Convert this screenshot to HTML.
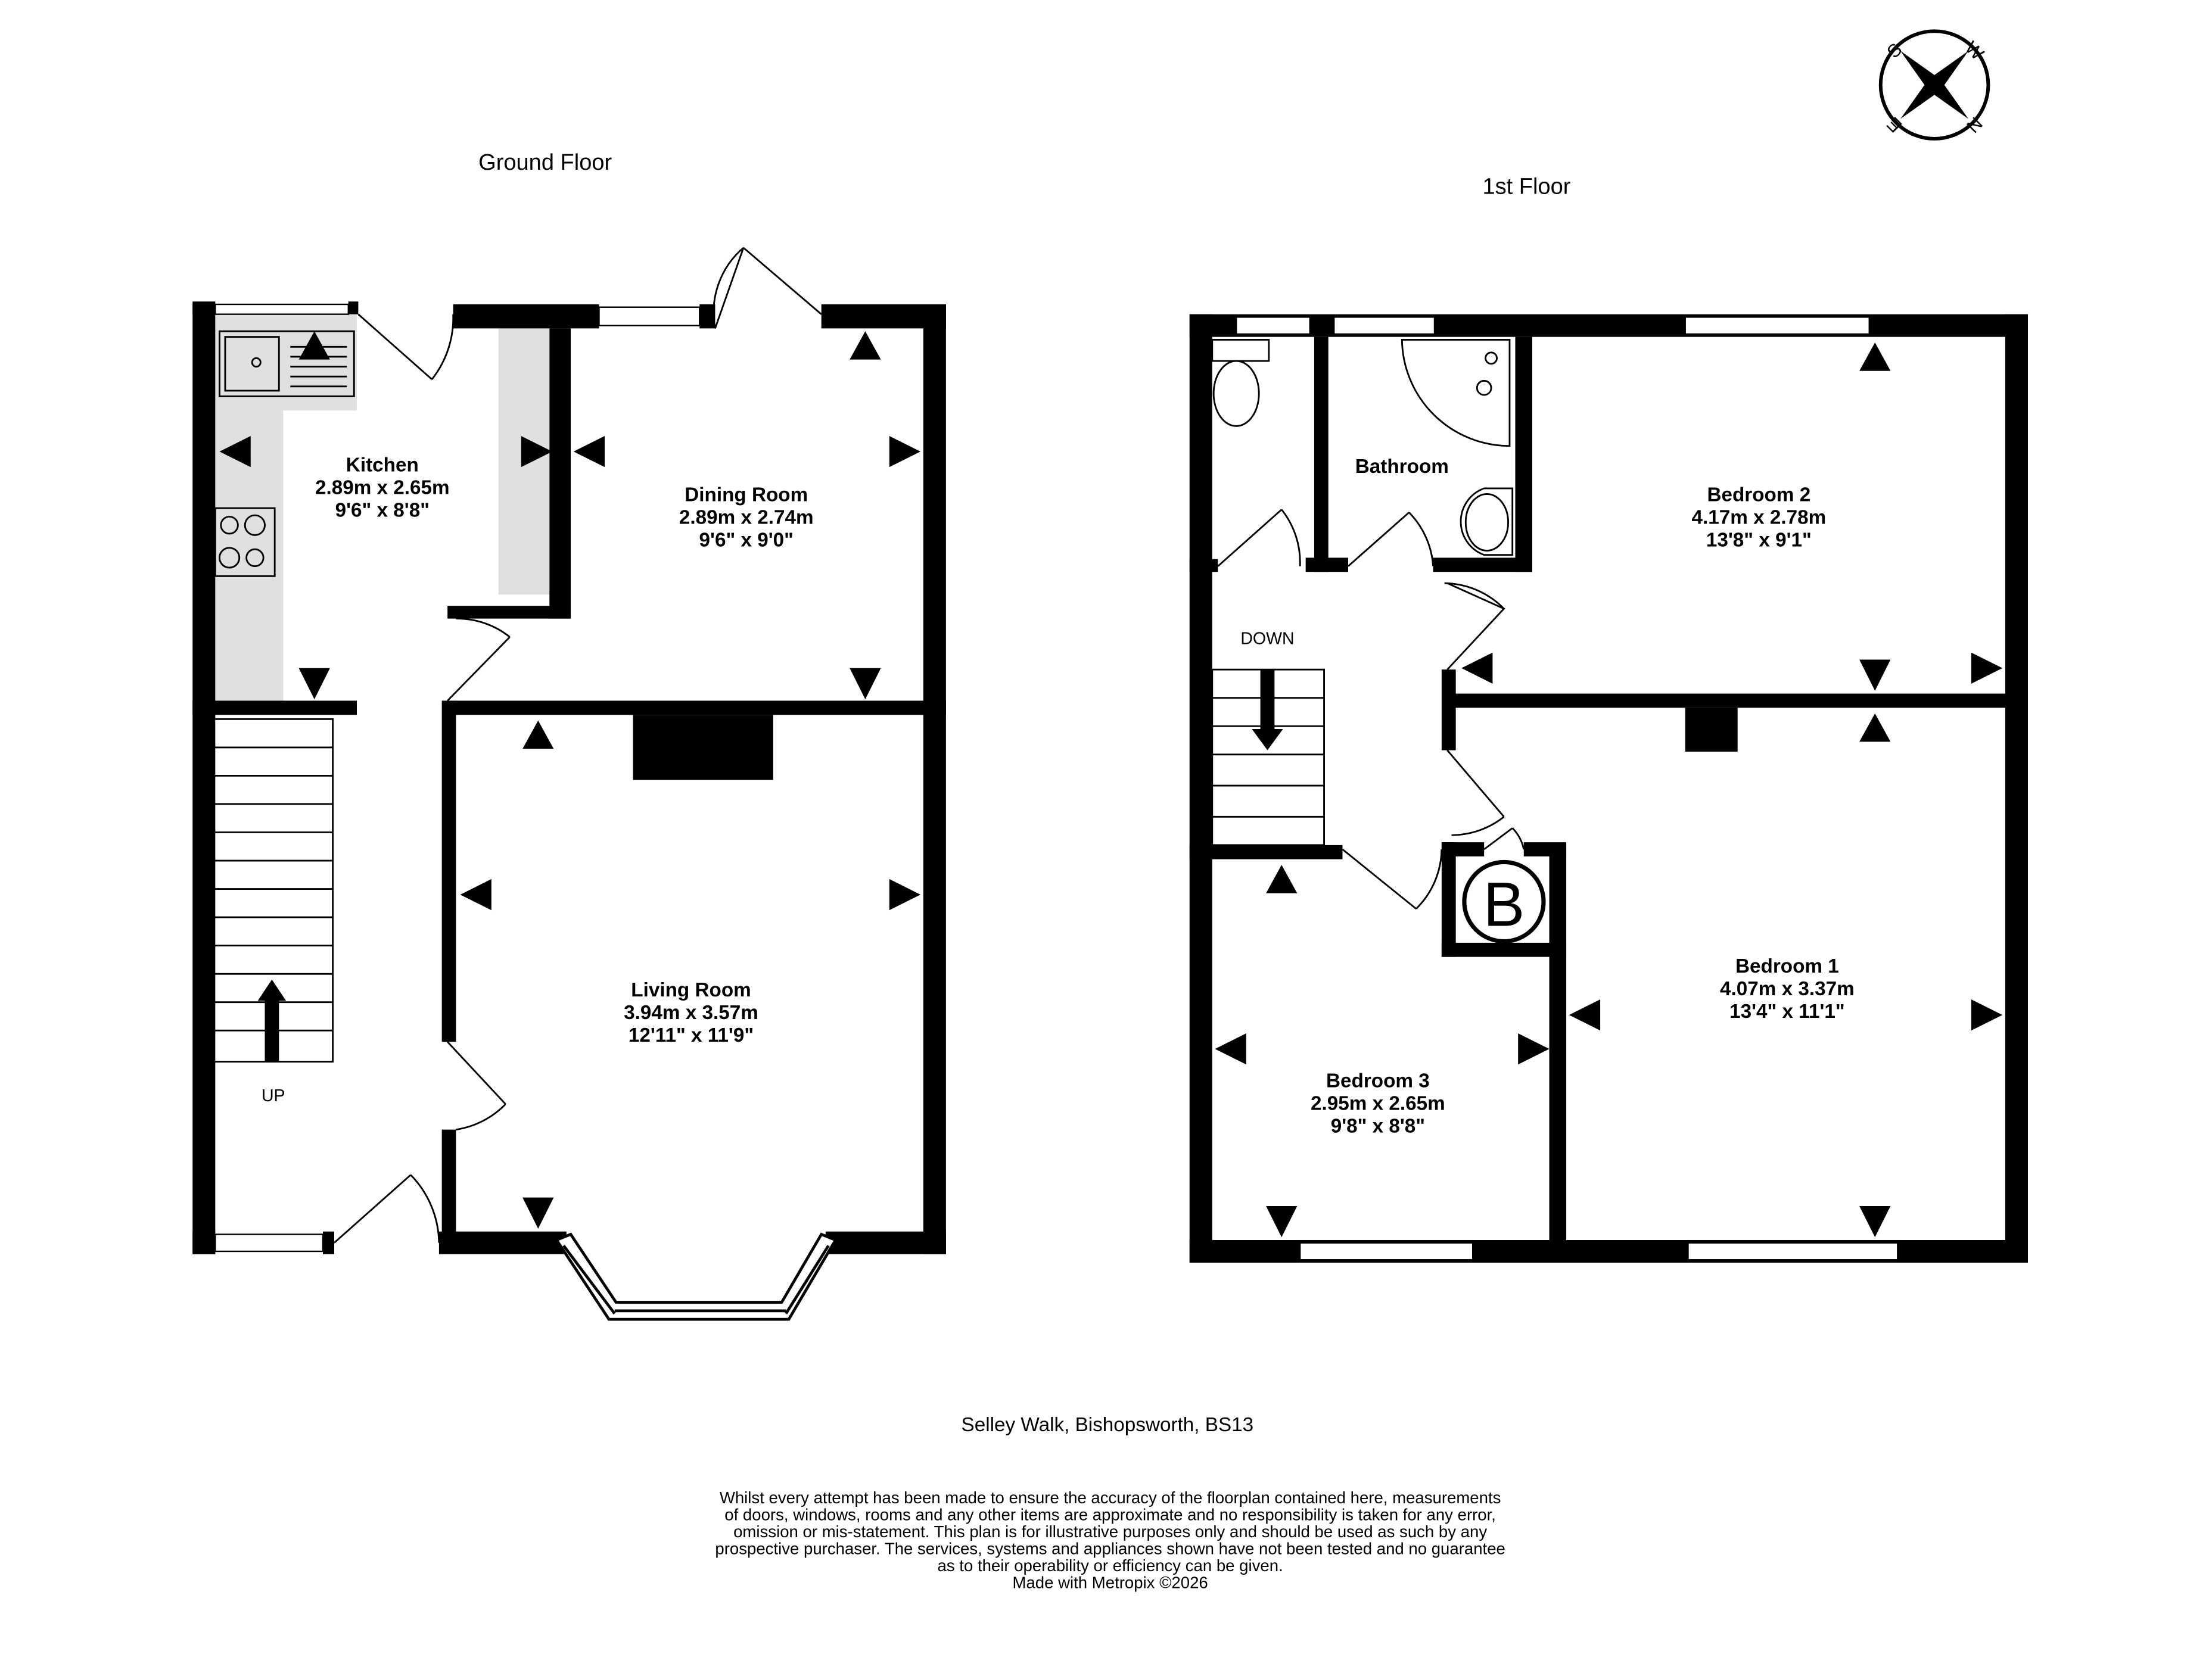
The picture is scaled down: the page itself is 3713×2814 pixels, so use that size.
<!DOCTYPE html>
<html><head><meta charset="utf-8"><style>
html,body{margin:0;padding:0;background:#fff;}
svg{display:block;}
text{font-family:"Liberation Sans",sans-serif;fill:#000;}
.b{font-weight:bold;font-size:14px;}
</style></head><body>
<svg width="3713" height="2814" viewBox="0 0 1562 1184" preserveAspectRatio="none" xmlns="http://www.w3.org/2000/svg">
<rect width="1600" height="1200" fill="#fff"/>
<text x="385" y="120" font-size="16" text-anchor="middle">Ground Floor</text>
<text x="1078" y="137" font-size="16" text-anchor="middle">1st Floor</text>
<g fill="#e0e0e0">
<rect x="152" y="222" width="100" height="68"/>
<rect x="152" y="222" width="48" height="273"/>
<rect x="352" y="232" width="36" height="188"/>
</g>
<g fill="#000">
<rect x="136" y="215" width="16" height="671"/>
<rect x="136" y="213" width="16" height="9"/><rect x="246" y="213" width="7" height="9"/>
<rect x="320" y="215" width="103" height="17"/>
<rect x="494" y="215" width="11" height="17"/>
<rect x="580" y="215" width="88" height="17"/>
<rect x="652" y="215" width="16" height="671"/>
<rect x="136" y="870" width="16" height="16"/><rect x="228" y="870" width="8" height="16"/>
<rect x="310" y="870" width="90" height="16"/>
<rect x="583" y="870" width="85" height="16"/>
<rect x="388" y="232" width="15" height="205"/>
<rect x="316" y="428" width="87" height="9"/>
<rect x="136" y="495" width="116" height="10"/>
<rect x="316" y="495" width="352" height="10"/>
<rect x="312" y="495" width="10" height="241"/>
<rect x="312" y="798" width="10" height="80"/>
<rect x="447" y="505" width="99" height="46"/>
<rect x="840" y="222" width="592" height="16"/>
<rect x="840" y="222" width="16" height="670"/>
<rect x="1416" y="222" width="16" height="670"/>
<rect x="840" y="876" width="592" height="16"/>
<rect x="928" y="238" width="10" height="166"/>
<rect x="1070" y="238" width="12" height="166"/>
<rect x="922" y="394" width="30" height="10"/>
<rect x="1012" y="394" width="70" height="10"/>
<rect x="840" y="395" width="20" height="9"/>
<rect x="1020" y="490" width="412" height="10"/>
<rect x="1018" y="473" width="10" height="57"/>
<rect x="840" y="597" width="108" height="10"/>
<rect x="1094" y="597" width="12" height="295"/>
<rect x="1018" y="595" width="30" height="10"/>
<rect x="1076" y="595" width="30" height="10"/>
<rect x="1018" y="595" width="10" height="81"/>
<rect x="1018" y="666" width="88" height="10"/>
<rect x="1190" y="500" width="37" height="31"/>
</g>
<g fill="#fff" stroke="#000" stroke-width="1">
<rect x="152" y="215" width="94" height="7"/>
<rect x="423" y="217" width="71" height="13"/>
<rect x="152" y="872" width="76" height="12"/>
<rect x="873" y="224" width="52" height="12"/>
<rect x="942" y="224" width="71" height="12"/>
<rect x="1190" y="224" width="130" height="12"/>
<rect x="918" y="878" width="122" height="12"/>
<rect x="1192" y="878" width="148" height="12"/>
</g>
<g fill="none" stroke="#000" stroke-width="2">
<polygon points="393,876 430,932 557,932 590,876 580,872 552,920 435,920 403,872" fill="#fff"/>
<line x1="398" y1="880" x2="434" y2="928"/><line x1="434" y1="926" x2="555" y2="926"/><line x1="555" y1="928" x2="585" y2="880"/>
</g>
<g fill="none" stroke="#000" stroke-width="1.2">
<path d="M253 222 L305 268 M305 268 A70 70 0 0 0 320 222"/>
<path d="M505 232 L525 175 M525 175 L580 222"/>
<path d="M505 232 A60 60 0 0 1 525 175"/>
<path d="M316 495 L360 450 M360 450 A60 60 0 0 0 322 437"/>
<path d="M316 736 L357 780 M357 780 A62 62 0 0 1 322 798"/>
<path d="M236 878 L290 830 M290 830 A70 70 0 0 1 310 878"/>
<path d="M860 400 L905 360 M905 360 A60 60 0 0 1 918 400"/>
<path d="M952 400 L995 362 M995 362 A60 60 0 0 1 1012 400"/>
<path d="M1022 412 L1062 430 L1022 473 M1020 412 A60 60 0 0 1 1062 430"/>
<path d="M1022 530 L1062 577 M1062 577 A60 60 0 0 1 1025 590"/>
<path d="M948 600 L1000 642 M1000 642 A60 60 0 0 0 1018 600"/>
<path d="M1048 600 L1068 585 M1068 585 A30 30 0 0 1 1076 600"/>
</g>
<g fill="none" stroke="#000" stroke-width="1.2">
<rect x="150" y="508" width="85" height="242"/>
<path d="M150 528H235M150 548H235M150 568H235M150 588H235M150 608H235M150 628H235M150 648H235M150 668H235M150 688H235M150 708H235M150 728H235"/>
<rect x="856" y="473" width="79" height="124"/>
<path d="M856 493H935M856 513H935M856 533H935M856 555H935M856 577H935"/>
</g>
<rect x="187" y="705" width="10" height="45"/><polygon points="182,707 202,707 192,692"/>
<rect x="890" y="473" width="10" height="45"/><polygon points="884,515 906,515 895,530"/>
<text x="193" y="778" font-size="12" text-anchor="middle">UP</text>
<text x="895" y="455" font-size="12" text-anchor="middle">DOWN</text>
<g fill="none" stroke="#000" stroke-width="1.2">
<rect x="155" y="234" width="95" height="46"/><rect x="159" y="238" width="38" height="38"/>
<circle cx="181" cy="256" r="3"/><path d="M205 245h40M205 252h40M205 259h40M205 266h40M205 273h40"/>
<rect x="152" y="359" width="42" height="48"/>
<circle cx="162" cy="371" r="6"/><circle cx="180" cy="371" r="7"/><circle cx="162" cy="394" r="7"/><circle cx="180" cy="394" r="6"/>
<rect x="856" y="240" width="40" height="15"/><ellipse cx="873" cy="278" rx="16" ry="23"/>
<path d="M990 240 H1066 V315 A76 76 0 0 1 990 240 Z"/><circle cx="1053" cy="253" r="4"/><circle cx="1048" cy="274" r="5"/>
<path d="M1068 345 V392 H1048 A25 25 0 0 1 1048 345 Z"/><ellipse cx="1050" cy="369" rx="15" ry="20"/>
<circle cx="1062" cy="637" r="28" stroke-width="3"/>
</g>
<text x="1062" y="654" font-size="44" text-anchor="middle">B</text>
<g class="b" text-anchor="middle">
<text x="270" y="333" class="b">Kitchen</text><text x="270" y="349" class="b">2.89m  x 2.65m</text><text x="270" y="365" class="b">9'6"  x 8'8"</text>
<text x="527" y="354" class="b">Dining Room</text><text x="527" y="370" class="b">2.89m  x 2.74m</text><text x="527" y="386" class="b">9'6"  x 9'0"</text>
<text x="488" y="704" class="b">Living Room</text><text x="488" y="720" class="b">3.94m  x 3.57m</text><text x="488" y="736" class="b">12'11"  x 11'9"</text>
<text x="990" y="334" class="b">Bathroom</text>
<text x="1242" y="354" class="b">Bedroom 2</text><text x="1242" y="370" class="b">4.17m  x 2.78m</text><text x="1242" y="386" class="b">13'8"  x 9'1"</text>
<text x="1262" y="687" class="b">Bedroom 1</text><text x="1262" y="703" class="b">4.07m  x 3.37m</text><text x="1262" y="719" class="b">13'4"  x 11'1"</text>
<text x="973" y="768" class="b">Bedroom 3</text><text x="973" y="784" class="b">2.95m  x 2.65m</text><text x="973" y="800" class="b">9'8"  x 8'8"</text>
</g>
<g fill="#000">
<polygon points="211,254 233,254 222,234"/><polygon points="177,308 177,330 155,319"/><polygon points="368,308 368,330 390,319"/><polygon points="427,308 427,330 405,319"/><polygon points="211,472 233,472 222,494"/>
<polygon points="600,254 622,254 611,234"/><polygon points="628,308 628,330 650,319"/><polygon points="600,472 622,472 611,494"/>
<polygon points="369,529 391,529 380,509"/><polygon points="347,621 347,643 325,632"/><polygon points="628,621 628,643 650,632"/><polygon points="369,846 391,846 380,868"/>
<polygon points="1313,262 1335,262 1324,242"/><polygon points="1054,461 1054,483 1032,472"/><polygon points="1392,461 1392,483 1414,472"/><polygon points="1313,466 1335,466 1324,488"/>
<polygon points="1313,524 1335,524 1324,504"/><polygon points="1130,706 1130,728 1108,717"/><polygon points="1392,706 1392,728 1414,717"/><polygon points="1313,852 1335,852 1324,874"/>
<polygon points="894,631 916,631 905,611"/><polygon points="880,730 880,752 858,741"/><polygon points="1072,730 1072,752 1094,741"/><polygon points="894,852 916,852 905,874"/>
</g>
<g transform="translate(1366,60)">
<circle r="38" fill="none" stroke="#000" stroke-width="2.5"/>
<polygon points="-24,-24 0,-7 24,-24 7,0 24,24 0,7 -24,24 -7,0" fill="#000"/>
<text x="-28" y="-20" font-size="13" text-anchor="middle" transform="rotate(-45 -28 -24)">S</text>
<text x="28" y="-20" font-size="13" text-anchor="middle" transform="rotate(45 28 -24)">W</text>
<text x="28" y="32" font-size="13" text-anchor="middle" transform="rotate(135 28 28)">N</text>
<text x="-28" y="32" font-size="13" text-anchor="middle" transform="rotate(-135 -28 28)">E</text>
</g>
<text x="782" y="1011" font-size="14" text-anchor="middle">Selley Walk, Bishopsworth, BS13</text>
<g font-size="11.6" text-anchor="middle">
<text x="784" y="1062">Whilst every attempt has been made to ensure the accuracy of the floorplan contained here, measurements</text>
<text x="784" y="1074">of doors, windows, rooms and any other items are approximate and no responsibility is taken for any error,</text>
<text x="784" y="1086">omission or mis-statement. This plan is for illustrative purposes only and should be used as such by any</text>
<text x="784" y="1098">prospective purchaser. The services, systems and appliances shown have not been tested and no guarantee</text>
<text x="784" y="1110">as to their operability or efficiency can be given.</text>
<text x="784" y="1122">Made with Metropix ©2026</text>
</g>
</svg>
</body></html>
